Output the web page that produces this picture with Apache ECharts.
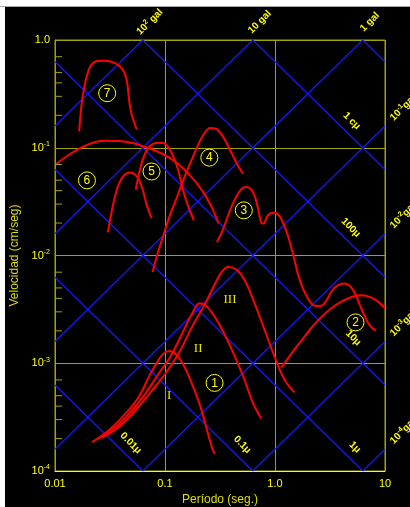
<!DOCTYPE html>
<html><head><meta charset="utf-8">
<script src="https://cdn.jsdelivr.net/npm/echarts@6/dist/echarts.min.js"></script>
<style>
html,body{margin:0;padding:0;background:#fff;width:410px;height:507px;overflow:hidden}
#topline{position:absolute;left:0;top:6px;width:410px;height:1px;background:#a8a8a8}
#c{position:absolute;left:5px;top:7px;width:405px;height:500px;background:#000}
</style></head><body>
<div id="topline"></div><div id="c"></div>
<script>
// ---------- data ----------
const xTickValues = [0.01, 0.1, 1, 10];
const xTickText = ['0.01', '0.1', '1.0', '10'];
const yTickValues = [1e-4, 1e-3, 1e-2, 1e-1, 1];
const yTickText = ['10{s|-4}', '10{s|-3}', '10{s|-2}', '10{s|-1}', '1.0'];

// tripartite reference lines
const accelGal = [100, 10, 1, 0.1, 0.01, 0.001, 0.0001];
const accelLabels = ['10{s|2} gal', '10 gal', '1 gal', '10{s|-1}gal', '10{s|-2}gal', '10{s|-3}gal', '10{s|-4}gal'];
const dispMicron = [0.01, 0.1, 1, 10, 100, 1000, 10000];
const dispLabels = ['0.01μ', '0.1μ', '1μ', '10μ', '100μ', '1 cμ'];

// spectra (period s, velocity cm/s)
const c7T = [0.0166,0.0173,0.0183,0.0197,0.0214,0.0241,0.0288,0.0343,0.0395,0.0430,0.0455,0.0471,0.0498,0.0554];
const c7V = [0.142,0.235,0.350,0.485,0.589,0.638,0.643,0.616,0.560,0.492,0.390,0.282,0.203,0.147];
const c6T = [0.0102,0.0133,0.0176,0.0233,0.0288,0.0381,0.0505,0.0693,0.0952,0.126,0.165,0.218,0.267,0.307];
const c6V = [0.0703,0.0856,0.1015,0.1131,0.1164,0.1156,0.1107,0.100,0.0875,0.0733,0.0569,0.0400,0.0278,0.0198];
const c5T = [0.0542,0.0581,0.0633,0.0698,0.0771,0.0887,0.0986,0.109,0.121,0.133,0.144,0.160,0.183];
const c5V = [0.0409,0.0581,0.0798,0.0986,0.1083,0.1115,0.1099,0.0986,0.0798,0.0602,0.0424,0.0298,0.0212];
const c5bT = [0.0302,0.0320,0.0343,0.0376,0.0418,0.0478,0.0534,0.0581,0.0633,0.0679,0.0755];
const c5bV = [0.0164,0.0225,0.0320,0.0448,0.0546,0.0590,0.0565,0.0505,0.0395,0.0298,0.0222];
const c4T = [0.0771,0.0856,0.0952,0.109,0.126,0.149,0.177,0.203,0.230,0.258,0.290,0.328,0.364,0.404,0.457,0.513];
const c4V = [0.00703,0.0104,0.0147,0.0225,0.0331,0.0523,0.0798,0.1099,0.1385,0.1522,0.1500,0.1317,0.1099,0.0887,0.0693,0.0573];
const c3T = [0.296,0.328,0.364,0.404,0.447,0.496,0.550,0.610,0.662,0.709,0.749,0.791,0.842,0.908,0.986,1.095,1.217,1.352,1.482,1.612,1.791,1.990,2.211,2.456,2.729,2.990,3.299,3.743,4.306,4.887,5.431,5.906,6.563,7.292,8.214];
const c3V = [0.01325,0.01637,0.0217,0.02875,0.03552,0.04146,0.04326,0.04088,0.03429,0.02587,0.02022,0.0198,0.02279,0.02462,0.02498,0.02328,0.01884,0.01373,0.009654,0.006789,0.004946,0.004003,0.003477,0.003405,0.003477,0.003947,0.004708,0.005305,0.005496,0.005122,0.004295,0.003477,0.002718,0.002231,0.002008];
const c2T = [1.135,1.306,1.503,1.791,2.135,2.634,3.253,4.015,4.956,5.906,7.04,8.39,10];
const c2V = [0.00091,0.001104,0.001344,0.001684,0.002124,0.00268,0.003242,0.003731,0.004118,0.004266,0.004177,0.003811,0.003242];
const cIIIT = [0.0268,0.0381,0.0542,0.0771,0.102,0.134,0.177,0.233,0.286,0.328,0.377,0.447,0.531,0.653,0.803,0.986,1.217,1.503];
const cIIIV = [0.000203,0.000256,0.000368,0.000568,0.000817,0.001253,0.0022,0.003602,0.005496,0.00703,0.007816,0.007387,0.005897,0.003602,0.00205,0.001168,0.000706,0.000537];
const cIIT = [0.0246,0.0355,0.0505,0.0669,0.0887,0.113,0.144,0.177,0.206,0.241,0.307,0.404,0.513,0.631,0.749];
const cIIV = [0.000199,0.000256,0.000368,0.000529,0.000817,0.001168,0.001911,0.002915,0.003602,0.003357,0.002361,0.001344,0.00076,0.000426,0.000307];
const cIT = [0.0217,0.0309,0.0439,0.0581,0.0718,0.0827,0.0952,0.109,0.126,0.149,0.177,0.210,0.241,0.267,0.282];
const cIV = [0.000185,0.000239,0.000342,0.000492,0.00076,0.000979,0.001209,0.001298,0.001209,0.000944,0.000634,0.000396,0.000239,0.000166,0.000144];

// annotation markers (period, velocity, text)
const circleT = [0.2822, 5.393, 0.5204, 0.2529, 0.07545, 0.01952, 0.0298];
const circleV = [0.000657, 0.002394, 0.02624, 0.0810, 0.0602, 0.0498, 0.3208];
const circleText = ['1','2','3','4','5','6','7'];
const romanT = [0.1093, 0.2002, 0.3899];
const romanV = [0.000499, 0.001363, 0.00392];
const romanText = ['I','II','III'];

// ---------- chart ----------
const OLIVE = '#a4a400', BRIGHT = '#ffff00', TXT = '#ffff00', BLUE = '#1818ff', RED = '#ff0000';
const FONT = "'Liberation Sans', Arial, sans-serif";
const TWO_PI = 2 * Math.PI;
const Tmin = 0.01, Tmax = 10, Vmin = 1e-4, Vmax = 1;

function tickFmt(values, texts) {
  return function (v) {
    for (let i = 0; i < values.length; i++) if (Math.abs(Math.log10(v) - Math.log10(values[i])) < 1e-6) return texts[i];
    return '';
  };
}
function accelSeg(A) {
  const t1 = Math.max(Tmin, TWO_PI * Vmin / A), t2 = Math.min(Tmax, TWO_PI * Vmax / A);
  if (t1 >= t2) return null;
  return [[t1, A * t1 / TWO_PI], [t2, A * t2 / TWO_PI]];
}
function dispSeg(D) {
  const t1 = Math.max(Tmin, TWO_PI * D / Vmax), t2 = Math.min(Tmax, TWO_PI * D / Vmin);
  if (t1 >= t2) return null;
  return [[t1, TWO_PI * D / t1], [t2, TWO_PI * D / t2]];
}
function zip(a, b) { return a.map((t, i) => [t, b[i]]); }

const series = [];
series.push({
  type: 'line', data: [], silent: true, z: 2,
  markLine: { silent: true, symbol: ['none', 'none'], label: { show: false },
    lineStyle: { color: BRIGHT, width: 1, type: 'solid' }, data: [{ yAxis: 0.001 }], animation: false }
});
accelGal.forEach(A => {
  const s = accelSeg(A);
  if (s) series.push({ type: 'line', data: s, symbol: 'none', silent: true, z: 1, lineStyle: { color: BLUE, width: 1.2 } });
});
dispMicron.forEach(m => {
  const s = dispSeg(m * 1e-4);
  if (s) series.push({ type: 'line', data: s, symbol: 'none', silent: true, z: 1, lineStyle: { color: BLUE, width: 1.2 } });
});
[[c7T,c7V],[c6T,c6V],[c5T,c5V],[c5bT,c5bV],[c4T,c4V],[c3T,c3V],[c2T,c2V],[cIIIT,cIIIV],[cIIT,cIIV],[cIT,cIV]].forEach(p => {
  series.push({ type: 'line', data: zip(p[0], p[1]), symbol: 'none', smooth: 0.35, silent: true, z: 5,
    lineStyle: { color: RED, width: 2 } });
});

const chart = echarts.init(document.getElementById('c'));
chart.setOption({
  backgroundColor: '#000',
  animation: false,
  grid: { left: 50, top: 33, width: 330, height: 431, show: true, borderColor: OLIVE, borderWidth: 1,
    containLabel: false, outerBoundsMode: 'none' },
  xAxis: {
    type: 'log', logBase: 10, min: Tmin, max: Tmax,
    name: 'Período (seg.)', nameLocation: 'middle', nameGap: 20,
    nameTextStyle: { color: '#dede00', fontSize: 12, fontFamily: FONT },
    axisLine: { show: true, lineStyle: { color: BRIGHT, width: 1 } },
    axisTick: { show: false },
    splitLine: { show: true, lineStyle: { color: OLIVE, width: 1 } },
    axisLabel: { color: TXT, fontSize: 11, fontFamily: FONT, margin: 7, showMinLabel: true, showMaxLabel: true,
      formatter: tickFmt(xTickValues, xTickText) }
  },
  yAxis: {
    type: 'log', logBase: 10, min: Vmin, max: Vmax,
    name: 'Velocidad (cm/seg)', nameLocation: 'middle', nameGap: 30,
    nameTextStyle: { color: '#dede00', fontSize: 12, fontFamily: FONT },
    axisLine: { show: true, lineStyle: { color: OLIVE, width: 1 } },
    axisTick: { show: false },
    splitLine: { show: true, lineStyle: { color: OLIVE, width: 1 } },
    axisLabel: { color: TXT, fontSize: 11, fontFamily: FONT, margin: 5, showMinLabel: true, showMaxLabel: true,
      formatter: tickFmt(yTickValues, yTickText),
      rich: { s: { fontSize: 7, color: TXT, fontFamily: FONT, padding: [0, 0, 7, 0] } } }
  },
  series: series
});

// ---------- annotations ----------
const conv = p => chart.convertToPixel({ gridIndex: 0 }, p);
const g = [];
const minorMult = [2, 3, 4, 5, 7];
for (let e = -4; e <= -1; e++) {
  minorMult.forEach(m => {
    const p = conv([Tmin, m * Math.pow(10, e)]);
    g.push({ type: 'line', shape: { x1: p[0], y1: p[1], x2: p[0] + 7, y2: p[1] }, style: { stroke: OLIVE, lineWidth: 1 }, z: 10 });
  });
}
const supRich = { s: { fontSize: 7, fill: TXT, color: TXT, fontWeight: 'bold', fontFamily: FONT, padding: [0, 0, 6, 0] } };
accelGal.forEach((A, i) => {
  let p;
  if (TWO_PI / A <= Tmax) { p = conv([TWO_PI / A, Vmax]); p = [p[0] + 7, p[1] - 18]; }
  else { p = conv([Tmax, A * Tmax / TWO_PI]); p = [p[0] + 18, p[1] - 18]; }
  g.push({ type: 'text', x: p[0], y: p[1], rotation: Math.PI / 4, z: 20,
    style: { text: accelLabels[i], fill: TXT, fontSize: 10, fontWeight: 'bold', fontFamily: FONT,
      align: 'center', verticalAlign: 'middle', rich: supRich } });
});
const dispLabelT = [0.0488, 0.504, 5.33, 5.15, 4.88, 4.98];
dispLabels.forEach((txt, i) => {
  const D = dispMicron[i] * 1e-4;
  const T = dispLabelT[i];
  const p = conv([T, TWO_PI * D / T]);
  g.push({ type: 'text', x: p[0], y: p[1] - 16, rotation: -Math.PI / 4, z: 20,
    style: { text: txt, fill: TXT, fontSize: 10, fontWeight: 'bold', fontFamily: FONT, align: 'center', verticalAlign: 'middle' } });
});
circleText.forEach((t, i) => {
  const p = conv([circleT[i], circleV[i]]);
  g.push({ type: 'circle', shape: { cx: p[0], cy: p[1], r: 8.5 }, style: { fill: 'none', stroke: BRIGHT, lineWidth: 1 }, z: 20 });
  g.push({ type: 'text', x: p[0], y: p[1] + 0.5, z: 21,
    style: { text: t, fill: BRIGHT, fontSize: 12, fontFamily: FONT, align: 'center', verticalAlign: 'middle' } });
});
romanText.forEach((t, i) => {
  const p = conv([romanT[i], romanV[i]]);
  g.push({ type: 'text', x: p[0], y: p[1], z: 21,
    style: { text: t, fill: '#e6e600', fontSize: 13, fontFamily: "'Liberation Serif', 'Times New Roman', serif", align: 'center', verticalAlign: 'middle' } });
});
chart.setOption({ graphic: g });
</script></body></html>
